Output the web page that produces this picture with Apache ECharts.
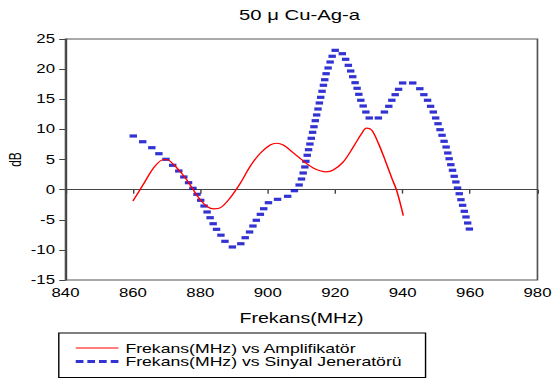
<!DOCTYPE html>
<html>
<head>
<meta charset="utf-8">
<script src="https://cdn.jsdelivr.net/npm/echarts@6/dist/echarts.min.js"></script>
<style>
  html, body { margin: 0; padding: 0; background: #fff; overflow: hidden; }
  /* chart is laid out narrow and widened horizontally */
  #wrap { width: 553px; height: 380px; overflow: hidden; }
  #chart { width: 395px; height: 380px; transform: scaleX(1.4); transform-origin: 0 0; }
</style>
</head>
<body>
<div id="wrap"><div id="chart"></div></div>
<script>
// Amplifier response (MHz, dB)
const ampFreq = [860, 863, 866, 868.5, 870, 872, 874, 876, 878, 880, 882, 884, 886, 888.8, 891.8, 894.7, 897.7, 900.7, 902.6, 904.6, 907.6, 910, 911.3, 913.5, 915.5, 917.3, 919.4, 922.4, 925.4, 927.9, 929.3, 930.8, 932.8, 934.8, 936.8, 938.2, 940.2];
const ampDb = [-1.9, 0.8, 3.5, 4.9, 5.0, 4.2, 3.0, 1.6, -0.1, -1.7, -2.8, -3.2, -3.0, -1.4, 1.0, 3.8, 6.0, 7.4, 7.7, 7.4, 6.1, 5.0, 4.4, 3.6, 3.15, 2.95, 3.25, 4.6, 7.1, 9.35, 10.2, 9.9, 7.7, 4.9, 1.9, -0.1, -4.3];

// Signal generator response (MHz, dB)
const genFreq = [860.1, 862.9, 865.6, 867.7, 869.8, 871.8, 873.6, 875.1, 876.5, 877.8, 879.0, 880.1, 881.1, 882.0, 882.9, 883.8, 884.8, 886.1, 887.3, 889.5, 892.0, 893.3, 894.6, 895.6, 896.6, 897.8, 898.8, 900.2, 902.9, 905.9, 907.9, 909.3, 910.0, 910.5, 911.0, 911.3, 911.7, 912.1, 912.5, 912.9, 913.3, 913.7, 914.1, 914.5, 914.9, 915.3, 915.7, 916.1, 916.5, 916.9, 917.3, 917.9, 918.5, 919.1, 920.0, 922.1, 923.1, 923.9, 924.6, 925.2, 925.9, 926.5, 927.0, 927.6, 928.3, 929.1, 930.1, 932.8, 934.6, 935.9, 936.8, 937.8, 938.8, 940.0, 943.0, 945.1, 946.3, 947.4, 948.3, 949.1, 949.8, 950.5, 951.1, 951.7, 952.3, 952.9, 953.4, 953.8, 954.3, 954.8, 955.3, 955.8, 956.3, 956.8, 957.3, 957.8, 958.3, 958.8, 959.3, 959.8];
const genDb = [8.90, 7.95, 6.96, 5.96, 5.03, 4.04, 3.09, 2.10, 1.15, 0.22, -0.78, -1.77, -2.72, -3.71, -4.66, -5.66, -6.59, -7.56, -8.58, -9.52, -8.98, -7.98, -7.03, -6.04, -5.09, -4.10, -3.17, -2.17, -1.61, -1.11, -0.18, 0.77, 1.76, 2.76, 3.76, 4.70, 5.70, 6.63, 7.57, 8.52, 9.51, 10.44, 11.44, 12.39, 13.38, 14.38, 15.32, 16.32, 17.32, 18.24, 19.24, 20.19, 21.18, 22.13, 23.12, 22.56, 21.63, 20.63, 19.69, 18.74, 17.75, 16.82, 15.82, 14.83, 13.88, 12.88, 11.89, 11.89, 12.88, 13.83, 14.83, 15.76, 16.65, 17.70, 17.70, 16.75, 15.76, 14.83, 13.83, 12.88, 11.89, 10.94, 9.95, 9.02, 8.02, 7.07, 6.08, 5.13, 4.14, 3.21, 2.21, 1.27, 0.27, -0.68, -1.67, -2.60, -3.60, -4.54, -5.54, -6.54];

// Axis ranges
const xMin = 840, xMax = 980, xStep = 20;
const yMin = -15, yMax = 25, yStep = 5;

const titleText = '50 \u03bc Cu-Ag-a';
const xName = 'Frekans(MHz)';
const yName = 'dB';
const ampName = 'Frekans(MHz) vs Amplifikat\u00f6r';
const genName = 'Frekans(MHz) vs Sinyal Jenerat\u00f6r\u00fc';

const FONT = '"Liberation Sans", Arial, sans-serif';
const zip = (a, b) => a.map((v, i) => [v, b[i]]);

const chart = echarts.init(document.getElementById('chart'), null, { renderer: 'svg' });
chart.setOption({
  animation: false,
  backgroundColor: '#fff',
  textStyle: { fontFamily: FONT },
  title: {
    text: titleText,
    left: 209, top: 3, textAlign: 'center',
    textStyle: { fontFamily: FONT, fontSize: 14.5, fontWeight: 'normal', color: '#000' }
  },
  grid: {
    left: 46.8, right: 11.1, top: 39, bottom: 100,
    containLabel: false, outerBoundsMode: 'none',
    show: true, borderColor: '#555', borderWidth: 1.2, backgroundColor: 'transparent'
  },
  xAxis: {
    type: 'value', min: xMin, max: xMax, interval: xStep,
    name: xName, nameLocation: 'middle', nameGap: 31, nameMoveOverlap: false,
    nameTextStyle: { fontFamily: FONT, fontSize: 14, color: '#000' },
    axisLine: { lineStyle: { color: '#444', width: 1 } },
    axisTick: { show: true, inside: false, length: 4, lineStyle: { color: '#444' } },
    axisLabel: { fontFamily: FONT, fontSize: 12, color: '#000', margin: 7 },
    splitLine: { show: false }
  },
  yAxis: {
    type: 'value', min: yMin, max: yMax, interval: yStep,
    name: yName, nameLocation: 'middle', nameGap: 30, nameMoveOverlap: false,
    nameTextStyle: { fontFamily: FONT, fontSize: 12, color: '#000' },
    axisLine: { show: true, lineStyle: { color: '#444', width: 1 } },
    axisTick: { show: true, inside: false, length: 4.5, lineStyle: { color: '#444' } },
    axisLabel: { fontFamily: FONT, fontSize: 12, color: '#000', margin: 7.5 },
    splitLine: { show: false }
  },
  legend: {
    orient: 'vertical',
    left: 42, top: 333,
    padding: [8.5, 17, 9.5, 11.6],
    borderColor: '#000', borderWidth: 1,
    itemWidth: 30.5, itemHeight: 3, itemGap: 0.5,
    textStyle: { fontFamily: FONT, fontSize: 12.6, color: '#000', lineHeight: 13 },
    data: [
      { name: ampName, lineStyle: { width: 1, color: '#ff0000' }, itemStyle: { opacity: 0 } },
      { name: genName, icon: 'path://M0,0h5.5v3h-5.5z M8.3,0h5.5v3h-5.5z M16.6,0h5.5v3h-5.5z M25,0h5.5v3h-5.5z' }
    ]
  },
  series: [
    {
      name: ampName, type: 'line', data: zip(ampFreq, ampDb),
      smooth: 0.35, symbol: 'none',
      lineStyle: { color: '#ff0000', width: 1.1 },
      itemStyle: { color: '#ff0000' }
    },
    {
      name: genName, type: 'scatter', data: zip(genFreq, genDb),
      symbol: 'rect', symbolSize: [5.3, 3.2],
      itemStyle: { color: '#0000c8' }
    }
  ]
});
</script>
</body>
</html>
